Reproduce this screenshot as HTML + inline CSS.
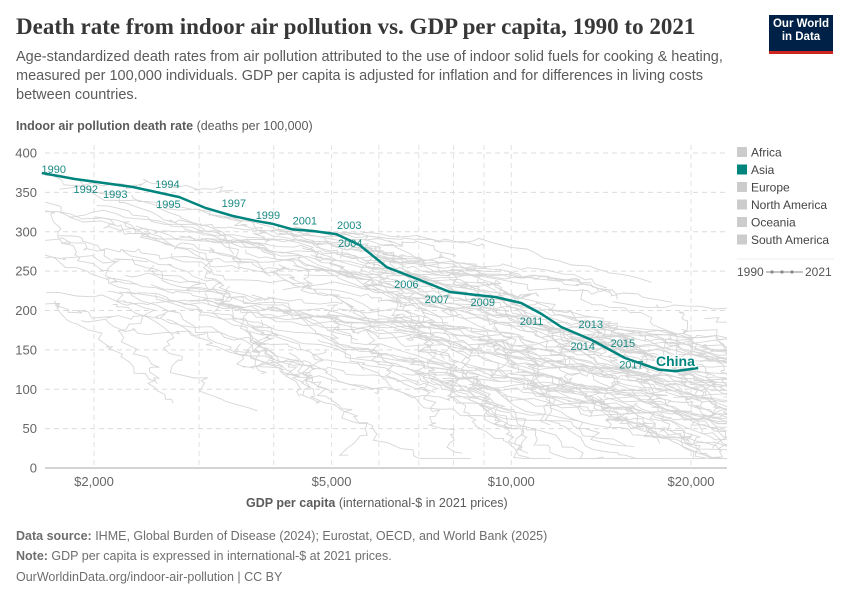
<!DOCTYPE html>
<html><head><meta charset="utf-8"><style>
body{margin:0;background:#fff;font-family:"Liberation Sans",sans-serif;}
#wrap{position:relative;width:850px;height:600px;overflow:hidden;}
.t{position:absolute;white-space:nowrap;}
</style></head><body><div id="wrap">
<div class="t" style="left:16px;top:14px;font-family:'Liberation Serif',serif;font-size:23px;font-weight:bold;color:#373737;">Death rate from indoor air pollution vs. GDP per capita, 1990 to 2021</div>
<div class="t" style="left:16px;top:48px;font-size:14.5px;line-height:19px;color:#5b5b5b;white-space:normal;width:740px;">Age-standardized death rates from air pollution attributed to the use of indoor solid fuels for cooking &amp; heating, measured per 100,000 individuals. GDP per capita is adjusted for inflation and for differences in living costs between countries.</div>
<div style="position:absolute;left:769px;top:15px;width:64px;height:33px;padding-top:3px;background:#002147;border-bottom:3px solid #ce261e;color:#fff;font-size:11.5px;font-weight:bold;text-align:center;line-height:13px;">Our World<br>in Data</div>
<div class="t" style="left:16px;top:119px;font-size:12.5px;color:#5b5b5b;"><b>Indoor air pollution death rate</b> (deaths per 100,000)</div>
<div class="t" style="left:246px;top:496px;font-size:12.5px;color:#5b5b5b;"><b>GDP per capita</b> (international-$ in 2021 prices)</div>
<div class="t" style="left:16px;top:529px;font-size:12.5px;color:#6e6e6e;"><b>Data source:</b> IHME, Global Burden of Disease (2024); Eurostat, OECD, and World Bank (2025)</div>
<div class="t" style="left:16px;top:549px;font-size:12.5px;color:#6e6e6e;"><b>Note:</b> GDP per capita is expressed in international-$ at 2021 prices.</div>
<div class="t" style="left:16px;top:570px;font-size:12.5px;color:#6e6e6e;">OurWorldinData.org/indoor-air-pollution | CC BY</div>
<svg id="svg" width="850" height="600" style="position:absolute;left:0;top:0"></svg>
</div>
<script>
const yTicks=[0,50,100,150,200,250,300,350,400];
const xTicks=[2000,5000,10000,20000];
const xTickLabels=["$2,000","$5,000","$10,000","$20,000"];
const xGrid=[2000,3000,4000,5000,6000,7000,8000,9000,10000,20000];
const chinaGdp=[1635,1857,2318,2780,3079,3417,3718,3988,4306,4656,5092,5572,6186,6960,7892,9419,10390,11240,12130,13640,15500,17640,18860,20560];
const chinaRate=[374.6,367,357,344,330,320,314,310,303,301,297,283,255,240,223.5,217,209.5,195.6,179,162.5,139.7,125,123,127];
const yearLabels=["1990","1992","1993","1994","1995","1997","1999","2001","2003","2004","2006","2007","2009","2011","2013","2014","2015","2017"];
const yearIdx=[0,1,2,3,3,5,7,8,10,10,13,14,15,17,19,19,20,21];
const yearDx=[12,11,-17,-12,-11,1,-5,12,13,14,-11,-13,-13,-10,-1,-9,-2,-27];
const yearDy=[-4,10,7,-13,7,-13,-9,-9,-9,9,5,7,5,7,-16,6,-15,-5];
const legendNames=["Africa","Asia","Europe","North America","Oceania","South America"];
const legendColors=["#cccccc","#00847e","#cccccc","#cccccc","#cccccc","#cccccc"];
const X0=94,XS=597,Y0=468,YS=0.7875;
const xs=v=>X0+XS*Math.log10(v/2000);
const ys=v=>Y0-v*YS;
const svg=document.getElementById('svg');const NS="http://www.w3.org/2000/svg";
function mk(t,a,p){const e=document.createElementNS(NS,t);for(const k in a)e.setAttribute(k,a[k]);(p||svg).appendChild(e);return e;}
const L=45,R=727;
yTicks.forEach(v=>{const y=ys(v);
 if(v>0){const g=mk('line',{x1:L,x2:R,y1:y,y2:y,stroke:'#dcdcdc','stroke-dasharray':'5,4'});}
 const t=mk('text',{x:37,y:y+4.5,'text-anchor':'end','font-size':13,fill:'#666','font-family':'Liberation Sans'});t.textContent=v;
 });
xGrid.forEach(v=>{const x=xs(v);
 const g=mk('line',{x1:x,x2:x,y1:145,y2:468,stroke:'#e2e2e2','stroke-dasharray':'5,4'});});
xTicks.forEach((v,i)=>{const x=xs(v);
 const t=mk('text',{x:x,y:486,'text-anchor':'middle','font-size':13,fill:'#666','font-family':'Liberation Sans'});t.textContent=xTickLabels[i];
 });
// background country trajectories (texture)
let s=11;const rnd=()=>{s=(s*16807)%2147483647;return s/2147483647;};
mk('clipPath',{id:'cp'}).appendChild(mk('rect',{x:L,y:130,width:R-L,height:338}));
const bg=mk('g',{fill:'none',stroke:'#d6d6d6','stroke-width':0.9,'clip-path':'url(#cp)'});

for(let i=0;i<200;i++){
 let lg=Math.log10(1250)+Math.pow(rnd(),0.8)*1.3;let f=(lg-3.1)/1.3;
 const lo=Math.max(15,175-165*f),hi=400-220*f;
 let r=lo+(hi-lo)*(0.15+0.85*rnd());
 let d='';const g=0.003+rnd()*0.016;const dr=1+rnd()*3.5;
 for(let k=0;k<32;k++){d+=(k?'L':'M')+xs(Math.pow(10,lg)).toFixed(1)+','+ys(r).toFixed(1);
  lg+=g+(rnd()-0.5)*0.035;r=Math.max(12,r-dr+(rnd()-0.5)*10);}
 const p=mk('path',{d:d},bg);}
const ax=mk('line',{x1:L,x2:R,y1:468,y2:468,stroke:'#aaa'});
// China
let d='';chinaGdp.forEach((v,i)=>{d+=(i?'L':'M')+xs(v).toFixed(1)+','+ys(chinaRate[i]).toFixed(1);});
const cl=mk('path',{d:d,fill:'none',stroke:'#00847e','stroke-width':2.5,'stroke-linejoin':'round'});

yearLabels.forEach((y,i)=>{const j=yearIdx[i];const t=mk('text',{x:xs(chinaGdp[j])+yearDx[i],y:ys(chinaRate[j])+yearDy[i]+4,'font-size':11,fill:'#1a8a84','font-family':'Liberation Sans','text-anchor':'middle'});t.textContent=y;
 });
const cn=mk('text',{x:656,y:366,'font-size':14,fill:'#00847e','font-weight':'bold','font-family':'Liberation Sans',stroke:'#fff','stroke-width':3,'paint-order':'stroke'});cn.textContent='China';

// legend
legendNames.forEach((n,i)=>{const y=152+i*17.5;
 const r=mk('rect',{x:737,y:y-5,width:10,height:10,fill:legendColors[i]});
 const t=mk('text',{x:751,y:y+4.5,'font-size':12,fill:'#444','font-family':'Liberation Sans'});t.textContent=n;});
const sep=mk('line',{x1:737,x2:834,y1:259,y2:259,stroke:'#eee'});
const t1=mk('text',{x:737,y:276,'font-size':12,fill:'#555','font-family':'Liberation Sans'});t1.textContent='1990';
const t2=mk('text',{x:805,y:276,'font-size':12,fill:'#555','font-family':'Liberation Sans'});t2.textContent='2021';
const tl=mk('line',{x1:766,x2:803,y1:272,y2:272,stroke:'#888'});
[772,782,792].forEach(x=>{const c=mk('circle',{cx:x,cy:272,r:1.6,fill:'#888'});});
</script></body></html>
